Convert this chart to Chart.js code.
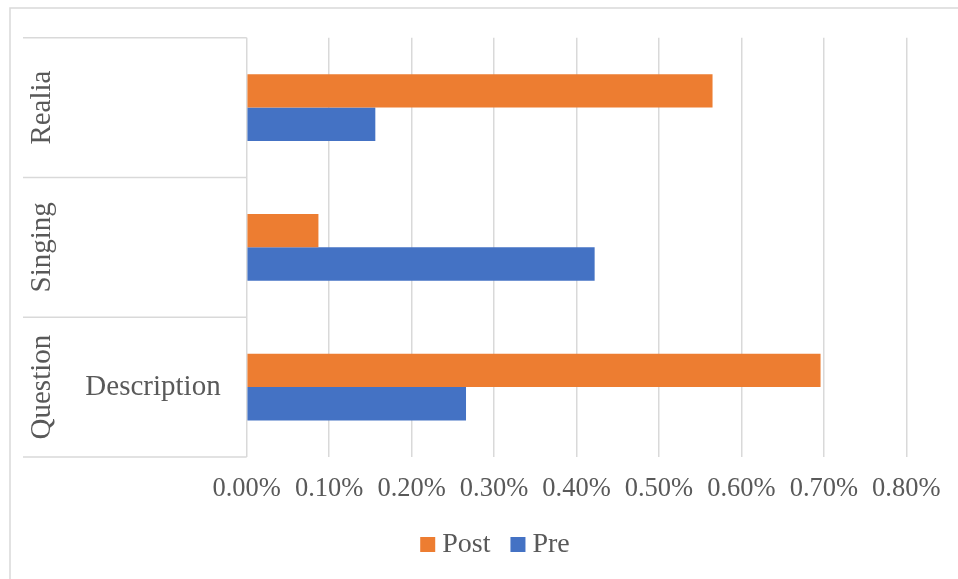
<!DOCTYPE html>
<html>
<head>
<meta charset="utf-8">
<script src="https://cdn.jsdelivr.net/npm/chart.js@4"></script>
<style>
  html, body { margin: 0; padding: 0; background: #ffffff; }
  #wrap { width: 958px; height: 579px; }
</style>
</head>
<body>
<div id="wrap"><canvas id="chart" width="958" height="579"></canvas></div>
<script>
// Teaching technique groups (top to bottom) and the inner label shown beside each
const categories = ['Realia', 'Singing', 'Question'];
const subLabels = ['', '', 'Description'];

// Share of responses, as fractions (0.00565 = 0.565%)
const postValues = [0.00565, 0.00087, 0.00696];
const preValues = [0.00156, 0.00422, 0.00266];

const seriesNames = ['Post', 'Pre'];
const seriesColors = ['#ED7D31', '#4472C4'];

const axisMax = 0.008;
const axisStep = 0.001;

const FONT = '"Liberation Serif", "Times New Roman", serif';
const TEXT = '#595959';
const LINE = '#d9d9d9';

// Frame, category panel lines, category labels and the legend
const decorations = {
  id: 'decorations',
  beforeDraw(chart) {
    const ctx = chart.ctx;
    ctx.save();
    ctx.fillStyle = '#ffffff';
    ctx.fillRect(0, 0, chart.width, chart.height);
    ctx.strokeStyle = LINE;
    ctx.lineWidth = 1.5;
    ctx.strokeRect(10, 8, 1200, 1200);
    ctx.restore();
  },
  afterDraw(chart) {
    const ctx = chart.ctx;
    const y = chart.scales.y;
    const area = chart.chartArea;
    ctx.save();

    // horizontal separators of the category panel
    const n = categories.length;
    const band = (area.bottom - area.top) / n;
    ctx.strokeStyle = LINE;
    ctx.lineWidth = 1.5;
    for (let i = 0; i <= n; i++) {
      const yy = area.top + i * band;
      ctx.beginPath();
      ctx.moveTo(23, yy);
      ctx.lineTo(area.left, yy);
      ctx.stroke();
    }

    // category labels
    ctx.fillStyle = TEXT;
    ctx.font = '29px ' + FONT;
    ctx.textAlign = 'center';
    ctx.textBaseline = 'middle';
    categories.forEach((c, i) => {
      const cy = y.getPixelForValue(i);
      ctx.save();
      ctx.translate(42.5, cy);
      ctx.rotate(-Math.PI / 2);
      ctx.fillText(c, 0, 0);
      ctx.restore();
      if (subLabels[i]) {
        ctx.fillText(subLabels[i], 153, cy);
      }
    });

    // legend
    ctx.font = '28px ' + FONT;
    ctx.textAlign = 'left';
    const box = 15, gapBox = 7, gapItem = 20;
    const widths = seriesNames.map(s => ctx.measureText(s).width);
    let total = 0;
    widths.forEach((w, i) => { total += box + gapBox + w + (i < widths.length - 1 ? gapItem : 0); });
    let x = 495 - total / 2;
    const ly = 544.5;
    seriesNames.forEach((s, i) => {
      ctx.fillStyle = seriesColors[i];
      ctx.fillRect(x, ly - box / 2, box, box);
      ctx.fillStyle = TEXT;
      ctx.fillText(s, x + box + gapBox, ly);
      x += box + gapBox + widths[i] + gapItem;
    });
    ctx.restore();
  }
};

new Chart(document.getElementById('chart'), {
  type: 'bar',
  data: {
    labels: categories,
    datasets: [
      { label: seriesNames[0], data: postValues, backgroundColor: seriesColors[0] },
      { label: seriesNames[1], data: preValues, backgroundColor: seriesColors[1] }
    ]
  },
  options: {
    indexAxis: 'y',
    responsive: false,
    animation: false,
    devicePixelRatio: 1,
    layout: { padding: { left: 246.7, top: 37.7, right: 51.7, bottom: 82 } },
    datasets: {
      bar: { categoryPercentage: 0.477, barPercentage: 1.0, borderWidth: 0 }
    },
    plugins: {
      legend: { display: false },
      tooltip: { enabled: false }
    },
    scales: {
      x: {
        min: 0,
        max: axisMax,
        grid: { color: LINE, lineWidth: 1.5, drawTicks: false },
        border: { display: false },
        afterFit(scale) { scale.height = 40; },
        ticks: {
          stepSize: axisStep,
          padding: 16,
          color: TEXT,
          font: { family: FONT, size: 26.5 },
          maxRotation: 0,
          autoSkip: false,
          callback: v => (v * 100).toFixed(2) + '%'
        }
      },
      y: {
        display: false,
        offset: true
      }
    }
  },
  plugins: [decorations]
});
</script>
</body>
</html>
